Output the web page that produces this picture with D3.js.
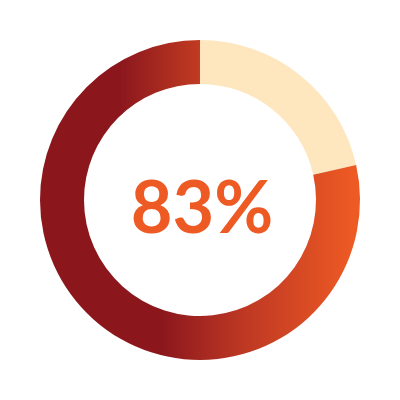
<!DOCTYPE html>
<html><head><meta charset="utf-8">
<script src="https://cdn.jsdelivr.net/npm/d3@7"></script>
<style>html,body{margin:0;padding:0;background:#fff;}</style>
</head><body>
<svg id="c" width="400" height="400"></svg>
<script>
// Data
const labelText = "83%";
const segments = ["filled", "remaining"];
const shares = [78.5, 21.5];   // drawn arc fractions (percent)
const remainingColor = "#FEE6BE";

const svg = d3.select("#c");
const cx = 200, cy = 200, rOuter = 160, rInner = 116;
const g = svg.append("g").attr("transform", `translate(${cx},${cy})`);
const defs = svg.append("defs");

const pie = d3.pie().sort(null).value(d => d.v);
const arcs = pie([{k: segments[1], v: shares[1]}, {k: segments[0], v: shares[0]}]);
const arc = d3.arc().innerRadius(rInner).outerRadius(rOuter);

const remaining = arcs[0];
const filled = arcs[1];
g.append("path").attr("d", arc(remaining)).attr("fill", remainingColor);

const split = 1.5 * Math.PI;
const gradLow = defs.append("linearGradient").attr("id", "gLow")
  .attr("gradientUnits", "userSpaceOnUse")
  .attr("x1", -rOuter).attr("x2", rOuter).attr("y1", 0).attr("y2", 0);
[[0, "#8B171D"], [0.38, "#8B171D"], [0.62, "#BB3623"], [0.98, "#EE5A24"], [1, "#EE5A24"]]
  .forEach(([o, c]) => gradLow.append("stop").attr("offset", o).attr("stop-color", c));
const gradUp = defs.append("linearGradient").attr("id", "gUp")
  .attr("gradientUnits", "userSpaceOnUse")
  .attr("x1", -rOuter).attr("x2", 0).attr("y1", 0).attr("y2", 0);
[[0, "#8B171D"], [0.5, "#8B171D"], [1, "#C23B22"]]
  .forEach(([o, c]) => gradUp.append("stop").attr("offset", o).attr("stop-color", c));

g.append("path").attr("d", arc({startAngle: filled.startAngle, endAngle: split}))
  .attr("fill", "url(#gLow)");
g.append("path").attr("d", arc({startAngle: split - 0.002, endAngle: filled.endAngle}))
  .attr("fill", "url(#gUp)");

g.append("text").attr("x", 2).attr("y", 33)
  .attr("text-anchor", "middle")
  .style("font-family", "Lato").style("font-weight", "bold")
  .style("font-size", "72px").attr("fill", "#EE5A24")
  .text(labelText);
</script>
</body></html>
